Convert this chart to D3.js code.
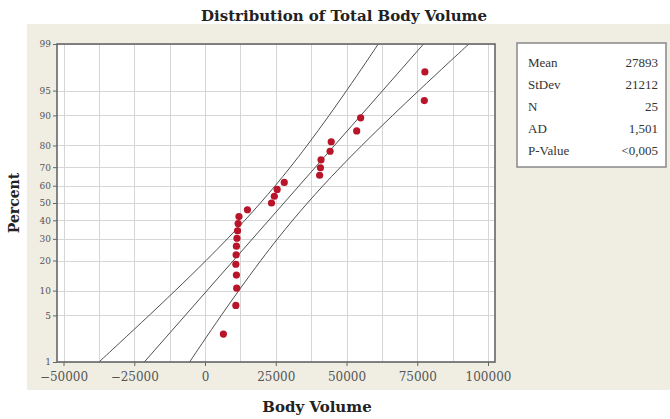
<!DOCTYPE html>
<html><head><meta charset="utf-8">
<script src="https://cdn.jsdelivr.net/npm/d3@7"></script>
<style>body{margin:0;background:#fff;} svg{display:block}</style>
</head><body>
<svg id="c" width="670" height="419"></svg>
<script>
// ---- data ----
const percentTicks = [1, 5, 10, 20, 30, 40, 50, 60, 70, 80, 90, 95, 99];
const xTicks = [-50000, -25000, 0, 25000, 50000, 75000, 100000];
const volumes = [6500, 10900, 11200, 11100, 10900, 11000, 11100, 11300, 11500, 11700, 12000, 15000,
  23500, 24500, 25500, 28000, 40500, 40800, 41000, 44200, 44600, 53600, 55000, 77500, 77700];
const plotPercents = [2.76, 6.69, 10.63, 14.57, 18.50, 22.44, 26.38, 30.31, 34.25, 38.19, 42.13, 46.06,
  50.00, 53.94, 57.87, 61.81, 65.75, 69.69, 73.62, 77.56, 81.50, 85.43, 89.37, 93.31, 97.24];
const fitPercents = [1, 99];
const fitVolumes = [-21450, 77230];
const bandPercents = [1, 2, 5, 10, 20, 30, 40, 50, 60, 70, 80, 90, 95, 98, 99];
const bandLower = [-37450, -30340, -19760, -10510, 370, 7900, 14070, 19580, 24820, 30150, 36070, 43860, 50030, 56800, 61230];
const bandUpper = [-5440, -1010, 5750, 11930, 19720, 25640, 30970, 36210, 41710, 47890, 55420, 66300, 75540, 86120, 93240];
const statLabels = ["Mean", "StDev", "N", "AD", "P-Value"];
const statValues = ["27893", "21212", "25", "1,501", "<0,005"];

// ---- helpers ----
function probit(p) {
  const a=[-3.969683028665376e+01,2.209460984245205e+02,-2.759285104469687e+02,1.383577518672690e+02,-3.066479806614716e+01,2.506628277459239e+00];
  const b=[-5.447609879822406e+01,1.615858368580409e+02,-1.556989798598866e+02,6.680131188771972e+01,-1.328068155288572e+01];
  const c=[-7.784894002430293e-03,-3.223964580411365e-01,-2.400758277161838e+00,-2.549732539343734e+00,4.374664141464968e+00,2.938163982698783e+00];
  const d=[7.784695709041462e-03,3.224671290700398e-01,2.445134137142996e+00,3.754408661907416e+00];
  const pl=0.02425, ph=1-pl; let q,r;
  if (p<pl){q=Math.sqrt(-2*Math.log(p));return (((((c[0]*q+c[1])*q+c[2])*q+c[3])*q+c[4])*q+c[5])/((((d[0]*q+d[1])*q+d[2])*q+d[3])*q+1);}
  if (p>ph){q=Math.sqrt(-2*Math.log(1-p));return -(((((c[0]*q+c[1])*q+c[2])*q+c[3])*q+c[4])*q+c[5])/((((d[0]*q+d[1])*q+d[2])*q+d[3])*q+1);}
  q=p-0.5;r=q*q;return (((((a[0]*r+a[1])*r+a[2])*r+a[3])*r+a[4])*r+a[5])*q/(((((b[0]*r+b[1])*r+b[2])*r+b[3])*r+b[4])*r+1);
}
const z = p => probit(p / 100);

const svg = d3.select("#c");
const L = 57, R = 495, T = 44, B = 362;
const serif = "'Liberation Serif','Times New Roman',serif";
const wide = "'DejaVu Serif',serif";

svg.append("rect").attr("x", 0).attr("y", 0).attr("width", 670).attr("height", 419).attr("fill", "#fff");
svg.append("rect").attr("x", 27).attr("y", 24).attr("width", 643).attr("height", 366).attr("fill", "#f0ede3");

const x = d3.scaleLinear().domain([-50000, 100000]).range([63.5, 488]);
const yz = d3.scaleLinear().domain([z(1), z(99)]).range([B, T]);
const y = p => yz(z(p));

svg.append("rect").attr("x", L).attr("y", T).attr("width", R - L).attr("height", B - T).attr("fill", "#fff");

// grid
const grid = svg.append("g").attr("stroke", "#d6d6d6").attr("stroke-width", 1);
grid.selectAll("line.v").data(d3.range(-50000, 100001, 12500)).join("line")
  .attr("x1", d => Math.round(x(d)) + 0.5).attr("x2", d => Math.round(x(d)) + 0.5).attr("y1", T).attr("y2", B);
grid.selectAll("line.h").data(percentTicks).join("line")
  .attr("y1", d => Math.round(y(d)) + 0.5).attr("y2", d => Math.round(y(d)) + 0.5).attr("x1", L).attr("x2", R);

svg.append("clipPath").attr("id", "clip").append("rect").attr("x", L).attr("y", T).attr("width", R - L).attr("height", B - T);
const plot = svg.append("g").attr("clip-path", "url(#clip)");

const line = d3.line().x(d => x(d[1])).y(d => y(d[0])).curve(d3.curveCatmullRom);
const lineStyle = g => g.attr("fill", "none").attr("stroke", "#505050").attr("stroke-width", 1);
plot.append("path").datum(fitPercents.map((p, i) => [p, fitVolumes[i]])).attr("d", line).call(lineStyle);
plot.append("path").datum(bandPercents.map((p, i) => [p, bandLower[i]])).attr("d", line).call(lineStyle);
plot.append("path").datum(bandPercents.map((p, i) => [p, bandUpper[i]])).attr("d", line).call(lineStyle);

plot.selectAll("circle").data(volumes).join("circle")
  .attr("cx", d => x(d)).attr("cy", (d, i) => y(plotPercents[i])).attr("r", 3.6)
  .attr("fill", "#b8142a");

// frame
svg.append("rect").attr("x", L).attr("y", T).attr("width", R - L).attr("height", B - T)
  .attr("fill", "none").attr("stroke", "#666").attr("stroke-width", 1.6);

// axes
const xAxis = svg.append("g").attr("transform", `translate(0,${B})`)
  .call(d3.axisBottom(x).tickValues(xTicks).tickSize(4).tickSizeOuter(0).tickFormat(d3.format("d")));
const yAxis = svg.append("g").attr("transform", `translate(${L},0)`)
  .call(d3.axisLeft(yz).tickValues(percentTicks.map(z)).tickSize(4).tickSizeOuter(0).tickFormat((d, i) => percentTicks[i]));
[xAxis, yAxis].forEach(g => {
  g.select(".domain").remove();
  g.selectAll("line").attr("stroke", "#666");
  g.selectAll("text").attr("fill", "#555").style("font-family", wide);
});
xAxis.selectAll("text").style("font-size", "12px").attr("y", 10).attr("dy", "0.75em");
yAxis.selectAll("text").style("font-size", "9px").attr("x", -6);

// titles
const bold = sel => sel.style("font-family", wide).style("font-weight", "bold").attr("fill", "#222");
svg.append("text").attr("x", 344).attr("y", 21).attr("text-anchor", "middle").style("font-size", "15px")
  .call(bold).text("Distribution of Total Body Volume");
svg.append("text").attr("x", 317).attr("y", 412).attr("text-anchor", "middle").style("font-size", "15px")
  .call(bold).text("Body Volume");
svg.append("text").attr("transform", "translate(19,203) rotate(-90)").attr("text-anchor", "middle").style("font-size", "14px")
  .call(bold).text("Percent");

// stats box
const box = svg.append("g");
box.append("rect").attr("x", 517).attr("y", 43).attr("width", 149).attr("height", 124)
  .attr("fill", "#fff").attr("stroke", "#888").attr("stroke-width", 1.5);
const rowY = d3.scalePoint().domain(statLabels).range([67, 155]);
box.selectAll("text.l").data(statLabels).join("text").attr("class", "l")
  .attr("x", 528).attr("y", d => rowY(d)).text(d => d)
  .style("font-family", serif).style("font-size", "13px").attr("fill", "#333");
box.selectAll("text.v").data(statValues).join("text").attr("class", "v")
  .attr("x", 658).attr("y", (d, i) => rowY(statLabels[i])).attr("text-anchor", "end").text(d => d)
  .style("font-family", serif).style("font-size", "13px").attr("fill", "#333");
</script>
</body></html>
